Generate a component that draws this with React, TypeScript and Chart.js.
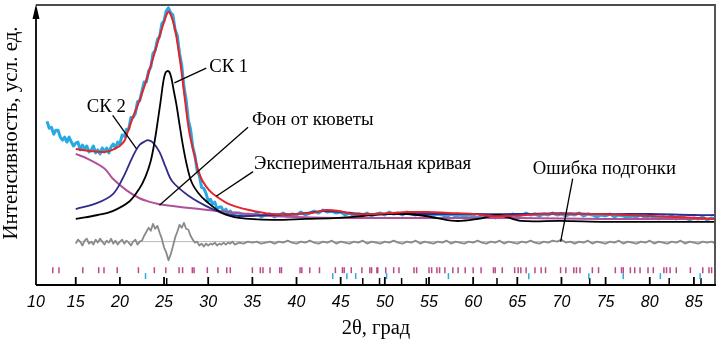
import React, { useEffect, useRef } from "react";
import { Chart, registerables } from "chart.js";

Chart.register(...registerables);

const X_MIN = 10.5;
const X_MAX = 87.5;
const Y_MAX = 284;

const xTickValues = [10, 15, 20, 25, 30, 35, 40, 45, 50, 55, 60, 65, 70, 75, 80, 85];
const xTickLabels = ["10", "15", "20", "25", "30", "35", "40", "45", "50", "55", "60", "65", "70", "75", "80", "85"];

type P = [number, number];

// Experimental curve (noisy), intensity in arbitrary units
const experimental: P[] = [
  [11.75, 166], [12, 159], [12.25, 160], [12.5, 153], [12.75, 157], [13, 157], [13.25, 150], [13.5, 147],
  [13.75, 150], [14, 145], [14.25, 150], [14.5, 145], [14.75, 141], [15, 144], [15.25, 145], [15.5, 137],
  [15.75, 142], [16, 138], [16.25, 141], [16.5, 135], [16.75, 137], [17, 141], [17.25, 134], [17.5, 137],
  [17.75, 133], [18, 139], [18.25, 135], [18.5, 139], [18.75, 134], [19, 140], [19.25, 143], [19.5, 139],
  [19.75, 145], [20, 143], [20.25, 152], [20.5, 151], [20.75, 158], [21, 158], [21.25, 170], [21.5, 170],
  [21.75, 174], [22, 186], [22.25, 187], [22.5, 197], [22.75, 206], [23, 206], [23.25, 217], [23.5, 221],
  [23.75, 235], [24, 238], [24.25, 249], [24.5, 252], [24.75, 265], [25, 268], [25.25, 278], [25.5, 281],
  [25.75, 276], [26, 274], [26.25, 259], [26.5, 253], [26.75, 235], [27, 223], [27.25, 201], [27.5, 188],
  [27.75, 167], [28, 158], [28.25, 140], [28.5, 131], [28.75, 116], [29, 111], [29.25, 99], [29.5, 98],
  [29.75, 93], [30, 85], [30.25, 87], [30.5, 82], [30.75, 84], [31, 77], [31.25, 79], [31.5, 79],
  [31.75, 74], [32, 77], [32.25, 73], [32.5, 75], [32.75, 71], [33, 73],
  [33.5, 73], [34, 70], [34.5, 72], [35, 71], [35.5, 73], [36, 69], [36.5, 71], [37, 72], [37.5, 69],
  [38, 71], [38.5, 73], [39, 70], [39.5, 72], [40, 71], [40.5, 74], [41, 71], [41.5, 73], [42, 75],
  [42.5, 73], [43, 76], [43.5, 74], [44, 75], [44.5, 73], [45, 74], [45.5, 71], [46, 73], [46.5, 70],
  [47, 72], [47.5, 71], [48, 73], [48.5, 70], [49, 72], [49.5, 73], [50, 71], [50.5, 74], [51, 72],
  [51.5, 73], [52, 71], [52.5, 74], [53, 72], [53.5, 71], [54, 73], [54.5, 71], [55, 72], [55.5, 70],
  [56, 72], [56.5, 71], [57, 69], [57.5, 72], [58, 70], [58.5, 71], [59, 69], [59.5, 71], [60, 70],
  [60.5, 68], [61, 71], [61.5, 69], [62, 70], [62.5, 68], [63, 71], [63.5, 69], [64, 70], [64.5, 72],
  [65, 70], [65.5, 71], [66, 73], [66.5, 71], [67, 72], [67.5, 70], [68, 72], [68.5, 71], [69, 73],
  [69.5, 71], [70, 72], [70.5, 70], [71, 72], [71.5, 71], [72, 73], [72.5, 70], [73, 72], [73.5, 71],
  [74, 69], [74.5, 71], [75, 70], [75.5, 72], [76, 69], [76.5, 71], [77, 70], [77.5, 68], [78, 70],
  [78.5, 69], [79, 71], [79.5, 68], [80, 70], [80.5, 69], [81, 67], [81.5, 69], [82, 68], [82.5, 70],
  [83, 67], [83.5, 69], [84, 68], [84.5, 66], [85, 68], [85.5, 67], [86, 69], [86.5, 66], [87, 68], [87.5, 67],
];

// Fitted curve (red)
const fitCurve: P[] = [
  [15, 138], [16.59, 136], [18.28, 135], [19.41, 138], [20.42, 145], [20.87, 155], [21.55, 172], [22.34, 190],
  [23.35, 218], [24.48, 252], [25.04, 268], [25.38, 276], [25.6, 277], [26.06, 266], [26.4, 252], [26.96, 218],
  [27.41, 185], [27.86, 155], [28.43, 132], [28.88, 116], [29.33, 106], [30.12, 96], [30.91, 90], [32.37, 82],
  [34.63, 76], [37.22, 72], [39.92, 72], [41.73, 73], [43.31, 76], [44.77, 75], [46.46, 72], [48.2, 72],
  [50.5, 73], [52.7, 74], [54.9, 74], [57.2, 73], [60, 72], [62, 70], [64, 70], [66, 71], [68, 72],
  [71, 72], [74, 72], [77, 71], [80, 70], [83, 69], [85.5, 68], [87.5, 67],
];

// СК 1 (black)
const ck1: P[] = [
  [15, 67], [17.49, 71], [19.18, 75], [21.1, 85], [22.22, 98], [22.9, 110], [23.47, 125], [23.92, 145],
  [24.3, 167], [24.59, 185], [24.93, 207], [25.15, 215], [25.38, 217], [25.6, 216], [25.83, 210], [26.1, 197],
  [26.4, 183], [26.75, 163], [27.07, 145], [27.52, 124], [28.09, 105], [28.9, 93], [29.78, 85], [31.58, 73],
  [33.5, 68], [37.22, 66], [41.05, 67], [44.77, 68], [47.5, 70], [50.07, 72], [52.5, 72], [54.58, 70],
  [57.96, 65], [60.56, 67], [62.81, 71], [65.4, 65], [69.91, 65], [75, 64], [80, 64], [87.5, 64],
];

// СК 2 (navy)
const ck2: P[] = [
  [15, 77], [17.38, 83], [19.18, 92], [20.31, 108], [21.44, 130], [22.22, 142], [22.9, 146], [23.13, 147],
  [23.69, 145], [24.48, 135], [25.16, 120], [25.94, 105], [27.86, 90], [29.78, 80], [31.58, 73], [33.5, 70],
  [37, 71], [40, 72], [43, 75], [45, 74], [48, 72], [52, 72], [56, 72], [60, 72], [65, 72], [70, 73],
  [75, 72], [80, 72], [85, 71], [87.5, 71],
];

// Фон от кюветы (magenta)
const cuvetteBg: P[] = [
  [15, 133], [16.36, 128], [18.28, 118], [19.18, 108], [20.76, 96], [22.22, 88], [23.13, 85], [24.48, 82],
  [28.99, 77], [33.5, 73], [37.22, 70], [44.77, 68], [55, 68], [65, 68], [75, 67], [87.5, 67],
];

// Ошибка подгонки (grey)
const fitError: P[] = [
  [15, 42], [15.25, 46], [15.5, 44], [15.75, 40], [16, 45], [16.25, 47], [16.5, 42], [16.75, 44], [17, 41],
  [17.25, 46], [17.5, 43], [17.75, 47], [18, 44], [18.25, 41], [18.5, 45], [18.75, 43], [19, 47], [19.25, 42],
  [19.5, 45], [19.75, 41], [20, 44], [20.25, 46], [20.5, 42], [20.75, 45], [21, 43], [21.25, 40], [21.5, 44],
  [21.75, 46], [22, 41], [22.25, 44], [22.5, 45], [22.75, 50], [23, 54], [23.25, 58], [23.5, 55], [23.75, 62],
  [24, 57], [24.25, 60], [24.5, 53], [24.75, 47], [25, 38], [25.25, 33], [25.5, 25], [25.75, 31], [26, 39],
  [26.25, 48], [26.5, 54], [26.75, 61], [27, 58], [27.25, 63], [27.5, 57], [27.75, 56], [28, 50], [28.25, 46],
  [28.5, 43], [28.75, 44], [29, 40], [29.25, 42], [29.5, 39], [29.75, 42], [30, 40], [30.25, 42], [30.5, 41],
  [30.75, 43], [31, 40], [31.25, 42], [31.5, 41], [31.75, 43], [32, 41], [32.25, 43], [32.5, 42], [32.75, 44],
  [33, 41], [33.5, 43], [34, 42], [34.5, 44], [35, 43], [35.5, 44], [36, 42], [36.5, 43], [37, 44], [37.5, 42],
  [38, 44], [38.5, 43], [39, 45], [39.5, 43], [40, 42], [40.5, 44], [41, 43], [41.5, 45], [42, 43], [42.5, 42],
  [43, 44], [43.5, 43], [44, 45], [44.5, 42], [45, 44], [45.5, 43], [46, 42], [46.5, 44], [47, 43], [47.5, 45],
  [48, 42], [48.5, 44], [49, 43], [49.5, 42], [50, 44], [50.5, 43], [51, 45], [51.5, 43], [52, 42], [52.5, 44],
  [53, 43], [53.5, 45], [54, 42], [54.5, 44], [55, 43], [55.5, 42], [56, 44], [56.5, 43], [57, 45], [57.5, 42],
  [58, 44], [58.5, 43], [59, 42], [59.5, 44], [60, 43], [60.5, 45], [61, 43], [61.5, 42], [62, 44], [62.5, 43],
  [63, 45], [63.5, 42], [64, 44], [64.5, 43], [65, 42], [65.5, 44], [66, 43], [66.5, 45], [67, 43], [67.5, 42],
  [68, 44], [68.5, 43], [69, 45], [69.5, 44], [70, 46], [70.5, 43], [71, 44], [71.5, 42], [72, 44], [72.5, 43],
  [73, 45], [73.5, 42], [74, 44], [74.5, 43], [75, 42], [75.5, 44], [76, 43], [76.5, 45], [77, 42], [77.5, 44],
  [78, 43], [78.5, 42], [79, 44], [79.5, 43], [80, 45], [80.5, 42], [81, 44], [81.5, 43], [82, 42], [82.5, 44],
  [83, 43], [83.5, 45], [84, 42], [84.5, 44], [85, 43], [85.5, 42], [86, 44], [86.5, 43], [87, 44], [87.5, 42],
];
const errorZero: P[] = [[15, 44], [87.5, 44]];

// Reflection position marks (2θ)
const phaseMagenta = [
  12.4, 13.1, 15.8, 17.6, 18.2, 19.7, 22.1, 23.9, 25.2, 26.7, 27.1, 28.2, 28.4, 29.9, 31.1, 32.1, 32.5, 35.0,
  35.9, 36.2, 37.0, 38.1, 38.3, 40.4, 40.6, 41.5, 42.6, 44.4, 45.2, 45.4, 46.2, 47.4, 48.3, 48.5, 49.1, 49.2,
  50.1, 51.0, 51.6, 53.3, 53.6, 55.0, 55.3, 55.9, 56.2, 56.8, 57.7, 58.3, 59.1, 60.0, 60.9, 62.3, 62.5, 63.3,
  64.7, 65.1, 65.4, 66.0, 67.0, 67.7, 68.2, 69.9, 70.5, 71.4, 71.7, 72.1, 73.5, 74.2, 76.1, 76.8, 77.0, 77.8,
  78.3, 78.9, 79.8, 80.4, 81.6, 81.9, 82.3, 83.0, 84.6, 86.0, 86.7, 87.0,
];
const phaseCyan = [22.9, 44.1, 45.7, 46.7, 50.2, 57.2, 66.3, 73.1, 77.0, 81.2, 85.7];
const phaseBlack = [25.3, 47.5, 49.4, 51.9, 54.7, 62.7, 73.2, 82.2, 85.8];
const ROW_MAGENTA = 15;
const ROW_CYAN = 9;
const ROW_BLACK = 3.5;

const annotations = [
  { text: "СК 1", x: 30.12, y: 216, from: [29.78, 220], to: [26.17, 205] },
  { text: "СК 2", x: 16.25, y: 175, from: [19.18, 172], to: [21.89, 138] },
  { text: "Фон от кюветы", x: 34.96, y: 162, from: [34.51, 160], to: [24.48, 81] },
  { text: "Экспериментальная кривая", x: 35.19, y: 118, from: [35.08, 115], to: [30.91, 90] },
  { text: "Ошибка подгонки", x: 66.76, y: 113, from: [71.27, 108], to: [69.91, 44] },
];

const SERIF = '"Liberation Serif", "Times New Roman", serif';

const line = (data: P[], color: string, width: number, smooth: boolean) => ({
  data: data.map(([x, y]) => ({ x, y })),
  borderColor: color,
  backgroundColor: color,
  borderWidth: width,
  pointRadius: 0,
  fill: false,
  tension: smooth ? 0.35 : 0,
  borderJoinStyle: "round",
});

const marks = (xs: number[], row: number, color: string, r: number) => ({
  data: xs.map((x) => ({ x, y: row })),
  showLine: false,
  pointStyle: "line",
  pointRotation: 90,
  pointRadius: r,
  pointHoverRadius: r,
  borderColor: color,
  backgroundColor: color,
  borderWidth: 1.5,
});

const framePlugin = {
  id: "frame",
  afterDraw(chart: any) {
    const { ctx, chartArea: a, scales } = chart;
    const xs = scales.x;
    const ys = scales.y;
    ctx.save();
    ctx.strokeStyle = "#111";
    ctx.lineWidth = 1.5;
    ctx.beginPath();
    ctx.moveTo(a.left, a.top);
    ctx.lineTo(a.right, a.top);
    ctx.stroke();
    ctx.strokeStyle = "#555";
    ctx.lineWidth = 2;
    ctx.beginPath();
    ctx.moveTo(a.right - 1, a.top);
    ctx.lineTo(a.right - 1, a.bottom);
    ctx.stroke();
    ctx.strokeStyle = "#000";
    ctx.lineWidth = 2;
    ctx.beginPath();
    ctx.moveTo(a.left, a.bottom);
    ctx.lineTo(a.right, a.bottom);
    ctx.stroke();
    ctx.lineWidth = 1.8;
    ctx.beginPath();
    ctx.moveTo(a.left, a.bottom);
    ctx.lineTo(a.left, a.top + 10);
    ctx.stroke();
    ctx.fillStyle = "#000";
    ctx.beginPath();
    ctx.moveTo(a.left, a.top - 1);
    ctx.lineTo(a.left - 3.5, a.top + 14);
    ctx.lineTo(a.left + 3.5, a.top + 14);
    ctx.closePath();
    ctx.fill();
    ctx.lineWidth = 1.8;
    xTickValues.forEach((v) => {
      if (v <= X_MIN) return;
      const px = xs.getPixelForValue(v);
      ctx.beginPath();
      ctx.moveTo(px, a.bottom);
      ctx.lineTo(px, a.bottom - 8);
      ctx.stroke();
    });
    ctx.font = `18.7px ${SERIF}`;
    ctx.textAlign = "left";
    ctx.textBaseline = "alphabetic";
    ctx.lineWidth = 1.3;
    annotations.forEach((an) => {
      ctx.fillText(an.text, xs.getPixelForValue(an.x), ys.getPixelForValue(an.y));
      ctx.beginPath();
      ctx.moveTo(xs.getPixelForValue(an.from[0]), ys.getPixelForValue(an.from[1]));
      ctx.lineTo(xs.getPixelForValue(an.to[0]), ys.getPixelForValue(an.to[1]));
      ctx.stroke();
    });
    ctx.save();
    ctx.translate(17, (a.top + a.bottom) / 2 - 12);
    ctx.rotate(-Math.PI / 2);
    ctx.font = `21px ${SERIF}`;
    ctx.textAlign = "center";
    ctx.textBaseline = "alphabetic";
    ctx.fillText("Интенсивность, усл. ед.", 0, 0);
    ctx.restore();
    ctx.restore();
  },
};

export default function App() {
  const ref = useRef<HTMLCanvasElement | null>(null);
  useEffect(() => {
    if (!ref.current) return;
    const chart = new Chart(ref.current, {
      type: "line",
      data: {
        datasets: [
          line(fitCurve, "#e3242b", 2, true),
          line(ck1, "#000000", 1.8, true),
          line(ck2, "#2f2d8c", 1.8, true),
          line(cuvetteBg, "#b0509a", 2, true),
          line(experimental, "#27a9e1", 3, false),
          line(fitError, "#8a8a8a", 1.8, false),
          line(errorZero, "#b8b8b8", 1, false),
          marks(phaseMagenta, ROW_MAGENTA, "#b94a86", 3),
          marks(phaseCyan, ROW_CYAN, "#29abe2", 3),
          marks(phaseBlack, ROW_BLACK, "#000000", 3.5),
        ] as any,
      },
      options: {
        animation: false,
        responsive: false,
        devicePixelRatio: 1,
        events: [],
        layout: { padding: { top: 1, right: 2, left: 0, bottom: 0 } },
        plugins: { legend: { display: false }, tooltip: { enabled: false } },
        scales: {
          x: {
            type: "linear",
            min: X_MIN,
            max: X_MAX,
            grid: { display: false, drawTicks: false },
            border: { display: false },
            afterBuildTicks: (s: any) => {
              s.ticks = xTickValues.map((v) => ({ value: Math.max(v, X_MIN) }));
            },
            afterFit: (s: any) => {
              s.height = 59;
            },
            ticks: {
              autoSkip: false,
              maxRotation: 0,
              padding: 8,
              color: "#000",
              font: { family: '"Liberation Sans", Arial, sans-serif', size: 16, style: "italic" },
              callback: (_v: any, i: number) => xTickLabels[i],
            },
            title: {
              display: true,
              text: "2θ, град",
              color: "#000",
              font: { family: SERIF, size: 20.5 },
              padding: { top: 0, bottom: 3 },
            },
          },
          y: {
            type: "linear",
            min: 0,
            max: Y_MAX,
            grid: { display: false, drawTicks: false },
            border: { display: false },
            ticks: { display: false },
            afterFit: (s: any) => {
              s.width = 36;
            },
          },
        },
      } as any,
      plugins: [framePlugin],
    });
    return () => chart.destroy();
  }, []);
  return (
    <div style={{ position: "fixed", left: 0, top: 0, width: 721, height: 344, background: "#fff" }}>
      <canvas ref={ref} width={721} height={344} style={{ display: "block" }} />
    </div>
  );
}
